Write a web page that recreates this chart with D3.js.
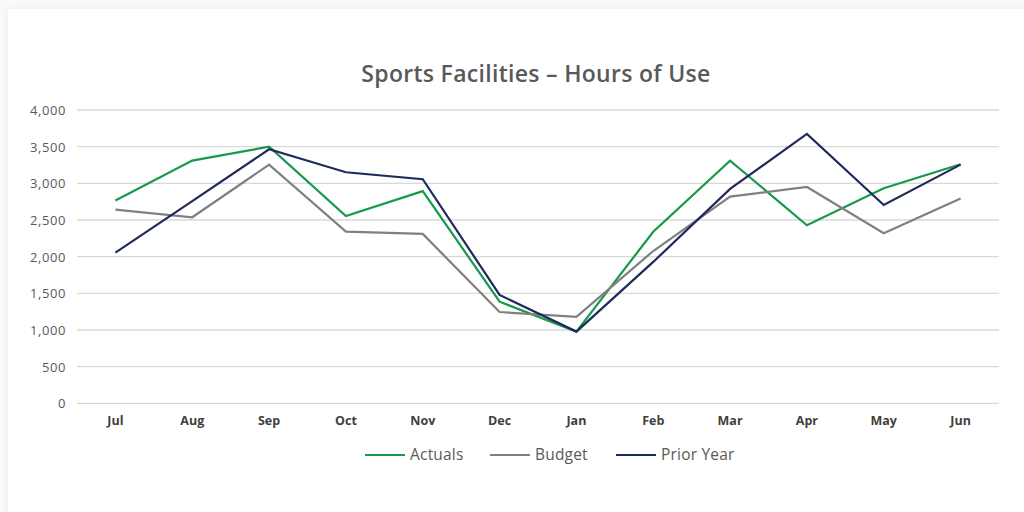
<!DOCTYPE html>
<html>
<head>
<meta charset="utf-8">
<script src="https://cdn.jsdelivr.net/npm/d3@7/dist/d3.min.js"></script>
<style>
  html, body { margin: 0; padding: 0; background: #fafafa; overflow: hidden; }
  #card { position: absolute; left: 8px; top: 9px; width: 1030px; height: 520px; background: #fff;
          box-shadow: 0 0 8px rgba(0,0,0,0.08); }
  svg { position: absolute; left: 0; top: 0; }
</style>
</head>
<body>
<div id="card"></div>
<svg id="chart" width="1024" height="512"></svg>
<script>
const months = ["Jul","Aug","Sep","Oct","Nov","Dec","Jan","Feb","Mar","Apr","May","Jun"];
const actuals = [2765, 3310, 3500, 2555, 2893, 1386, 978, 2340, 3310, 2428, 2932, 3260];
const budget = [2642, 2537, 3255, 2341, 2310, 1245, 1180, 2077, 2818, 2950, 2320, 2792];
const priorYear = [2055, 2757, 3464, 3151, 3056, 1478, 978, 1928, 2923, 3673, 2705, 3255];
const yTicks = [0, 500, 1000, 1500, 2000, 2500, 3000, 3500, 4000];
const seriesNames = ["Actuals", "Budget", "Prior Year"];
const seriesColors = ["#17994a", "#808080", "#1f2a5c"];
const title = "Sports Facilities \u2013 Hours of Use";

const series = [actuals, budget, priorYear];
const svg = d3.select("#chart");
const mLeft = 77, mRight = 999, mTop = 110, mBottom = 403.3;

const x = d3.scaleBand().domain(months).range([mLeft, mRight]);
const y = d3.scaleLinear().domain([0, 4000]).range([mBottom, mTop]);

const font = "'Open Sans', sans-serif";

svg.append("text")
  .attr("x", 536).attr("y", 82)
  .attr("text-anchor", "middle")
  .style("font-family", font).style("font-size", "23px").style("font-weight", "600")
  .style("letter-spacing", "0.3px")
  .style("fill", "#595959")
  .text(title);

// gridlines
svg.append("g").selectAll("line").data(yTicks).join("line")
  .attr("x1", mLeft).attr("x2", mRight)
  .attr("y1", d => y(d)).attr("y2", d => y(d))
  .attr("stroke", "#d9d9d9").attr("stroke-width", 1.3);

// y axis labels
const yAxis = d3.axisLeft(y).tickValues(yTicks).tickFormat(d3.format(",")).tickSize(0).tickPadding(0);
const gy = svg.append("g").attr("transform", `translate(${mLeft - 11},0)`).call(yAxis);
gy.select(".domain").remove();
gy.selectAll("text").style("font-family", font).style("font-size", "13px").style("font-weight", "500")
  .style("letter-spacing", "0.6px")
  .style("fill", "#595959").attr("dy", "0.35em");

// x axis labels
const xAxis = d3.axisBottom(x).tickSize(0).tickPadding(0);
const gx = svg.append("g").attr("transform", `translate(0,${mBottom + 13})`).call(xAxis);
gx.select(".domain").remove();
gx.selectAll("text").style("font-family", font).style("font-size", "12.5px").style("font-weight", "700")
  .style("fill", "#404040").attr("dy", "0.71em");

// lines
const line = d3.line().x((d, i) => x(months[i]) + x.bandwidth() / 2).y(d => y(d));
svg.append("g").selectAll("path").data(series).join("path")
  .attr("d", d => line(d))
  .attr("fill", "none")
  .attr("stroke", (d, i) => seriesColors[i])
  .attr("stroke-width", 2.2)
  .attr("stroke-linejoin", "miter");

// legend
const legendX = [365, 490, 616];
const lg = svg.append("g");
seriesNames.forEach((name, i) => {
  const gg = lg.append("g").attr("transform", `translate(${legendX[i]},455)`);
  gg.append("line").attr("x1", 0).attr("x2", 40).attr("y1", 0).attr("y2", 0)
    .attr("stroke", seriesColors[i]).attr("stroke-width", 2.2);
  gg.append("text").attr("x", 45).attr("y", 0).attr("dy", "0.35em")
    .style("font-family", font).style("font-size", "15.5px").style("fill", "#595959")
    .style("letter-spacing", "0.2px")
    .text(name);
});
</script>
</body>
</html>
